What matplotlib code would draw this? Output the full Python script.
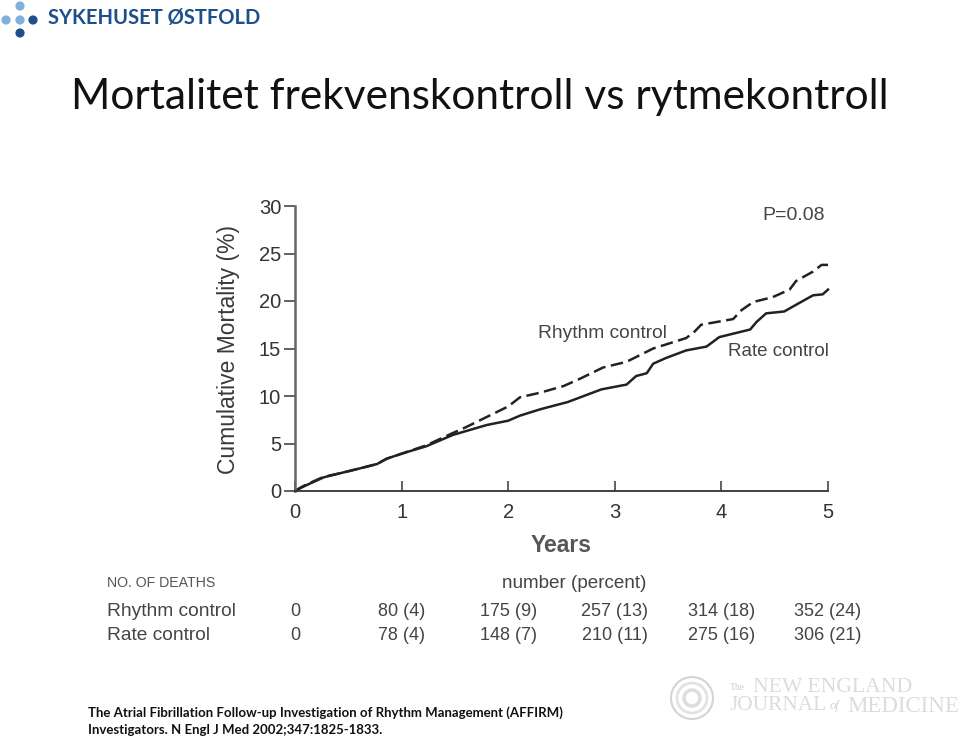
import matplotlib
matplotlib.use('Agg')
import matplotlib.pyplot as plt
from matplotlib.patches import Circle
from matplotlib.transforms import blended_transform_factory

W, H = 960, 739

# curves
rate_years = [0, 0.05, 0.11, 0.27, 0.42, 0.58, 0.77, 0.86, 1.02, 1.23, 1.48, 1.8, 2.0, 2.11, 2.3, 2.56,
              2.875, 3.11, 3.2, 3.3, 3.36, 3.48, 3.67, 3.86, 3.98, 4.27, 4.33, 4.42, 4.59, 4.7, 4.86, 4.95, 5]
rate_vals = [0, 0.3, 0.63, 1.44, 1.86, 2.3, 2.84, 3.4, 4.0, 4.7, 5.9, 6.95, 7.4, 7.93, 8.6, 9.37,
             10.7, 11.2, 12.1, 12.4, 13.4, 14.0, 14.8, 15.2, 16.2, 17.0, 17.8, 18.7, 18.9, 19.6, 20.6, 20.7, 21.2]
rhythm_years = [0, 0.05, 0.11, 0.27, 0.42, 0.58, 0.77, 0.86, 1.02, 1.23, 1.48, 1.6, 1.8, 2.0, 2.11, 2.3, 2.52,
                2.67, 2.89, 3.11, 3.36, 3.67, 3.75, 3.81, 4.11, 4.19, 4.3, 4.48, 4.64, 4.7, 4.86, 4.94, 5]
rhythm_vals = [0, 0.35, 0.7, 1.5, 1.86, 2.3, 2.84, 3.4, 4.0, 4.8, 6.1, 6.7, 7.8, 8.9, 9.86, 10.35, 11.05,
               11.8, 13.0, 13.6, 15.0, 16.1, 16.8, 17.5, 18.1, 19.05, 19.9, 20.4, 21.2, 22.1, 23.1, 23.8, 23.8]

x_ticks = [0, 1, 2, 3, 4, 5]
y_ticks = [0, 5, 10, 15, 20, 25, 30]
rhythm_deaths = ['0', '80 (4)', '175 (9)', '257 (13)', '314 (18)', '352 (24)']
rate_deaths = ['0', '78 (4)', '148 (7)', '210 (11)', '275 (16)', '306 (21)']

fig = plt.figure(figsize=(W / 100, H / 100), dpi=100)
plt.rcParams['font.family'] = ['Liberation Sans', 'DejaVu Sans']


def px(x, y):
    return x / W, 1 - y / H


def label(x, y, s, **kw):
    fig.text(*px(x, y), s, **kw)


ax = fig.add_axes([295 / W, 1 - 491 / H, (828 - 295) / W, (491 - 206) / H])
ax.plot(rate_years, rate_vals, color='#222222', lw=1.8, clip_on=False)
ax.plot(rhythm_years, rhythm_vals, color='#222222', lw=1.8, clip_on=False, dashes=(5, 2.2))
ax.set_xlim(0, 5)
ax.set_ylim(0, 30)
ax.spines['top'].set_visible(False)
ax.spines['right'].set_visible(False)
ax.spines['left'].set_color('#666666')
ax.spines['left'].set_linewidth(1.8)
ax.spines['bottom'].set_color('#333333')
ax.spines['bottom'].set_linewidth(1.3)
ax.set_xticks(x_ticks)
ax.set_yticks(y_ticks)
ax.tick_params(axis='x', direction='in', length=7, width=1.3, color='#555555', pad=9,
               labelsize=14.5, labelcolor='#333333')
ax.tick_params(axis='y', direction='out', length=8, width=1.3, color='#555555', pad=2,
               labelsize=14.5, labelcolor='#333333')
ax.patch.set_alpha(0)

label(228, 349, 'Cumulative Mortality (%)', rotation=90, ha='center', va='center', fontsize=16.5, color='#3a3a3a')
label(561, 545, 'Years', ha='center', va='center', fontsize=16.5, color='#3a3a3a', fontweight='bold', alpha=0.85)
label(794, 215, 'P=0.08', ha='center', va='center', fontsize=14, color='#444444')
label(602, 333, 'Rhythm control', ha='center', va='center', fontsize=13.8, color='#444444')
label(778, 351, 'Rate control', ha='center', va='center', fontsize=13.5, color='#444444')

# table under the chart
trans = blended_transform_factory(ax.transData, fig.transFigure)
label(107, 583, 'NO. OF DEATHS', ha='left', va='center', fontsize=10.2, color='#555555')
label(574, 583, 'number (percent)', ha='center', va='center', fontsize=13.6, color='#444444')
label(107, 611, 'Rhythm control', ha='left', va='center', fontsize=13.8, color='#444444')
label(107, 635, 'Rate control', ha='left', va='center', fontsize=13.8, color='#444444')
for t, a, b in zip(x_ticks, rhythm_deaths, rate_deaths):
    ax.text(t, 1 - 611 / H, a, transform=trans, ha='center', va='center', fontsize=13, color='#444444')
    ax.text(t, 1 - 635 / H, b, transform=trans, ha='center', va='center', fontsize=13, color='#444444')

# slide text
label(71, 97, 'Mortalitet frekvenskontroll vs rytmekontroll', ha='left', va='center',
      fontsize=30.5, family=['Lato', 'DejaVu Sans'], color='#111111')
label(88, 713, 'The Atrial Fibrillation Follow-up Investigation of Rhythm Management (AFFIRM)', ha='left', va='center',
      fontsize=9.5, fontweight='bold', family=['Lato', 'DejaVu Sans'], color='#111111')
label(88, 730, 'Investigators. N Engl J Med 2002;347:1825-1833.', ha='left', va='center',
      fontsize=9.5, fontweight='bold', family=['Lato', 'DejaVu Sans'], color='#111111')

# hospital logo
bg = fig.add_axes([0, 0, 1, 1], zorder=-1)
bg.set_xlim(0, W)
bg.set_ylim(H, 0)
bg.axis('off')
for cx, cy, c in [(20, 6, '#7fb0dc'), (6, 20, '#7fb0dc'), (20, 20, '#7fb0dc'), (33, 20, '#1d4f8c'), (20, 33, '#1d4f8c')]:
    bg.add_patch(Circle((cx, cy), 4.6, color=c, lw=0))
label(48, 18, 'SYKEHUSET ØSTFOLD', ha='left', va='center', fontsize=14.5, fontweight='bold',
      family=['Lato', 'DejaVu Sans'], color='#1d4f8c')

# journal logo, very pale
bg.add_patch(Circle((692, 698), 21, fill=False, ec='#d4d4d4', lw=1.5))
bg.add_patch(Circle((692, 698), 15, fill=False, ec='#e2e2e2', lw=2))
bg.add_patch(Circle((692, 698), 8, fill=False, ec='#dddddd', lw=2.5))
label(730, 688, 'The', ha='left', va='center', fontsize=7, family='Liberation Serif', color='#cfcfcf')
label(753, 687, 'NEW ENGLAND', ha='left', va='center', fontsize=15.6, family='Liberation Serif', color='#dcdcdc')
label(730, 706, 'JOURNAL', ha='left', va='center', fontsize=15.4, family='Liberation Serif', color='#dcdcdc')
label(830, 706, 'of', ha='left', va='center', fontsize=9, family='Liberation Serif', style='italic', color='#d0d0d0')
label(847, 706, 'MEDICINE', ha='left', va='center', fontsize=16.5, family='Liberation Serif', color='#dcdcdc')

fig.savefig('out.png', dpi=100)
